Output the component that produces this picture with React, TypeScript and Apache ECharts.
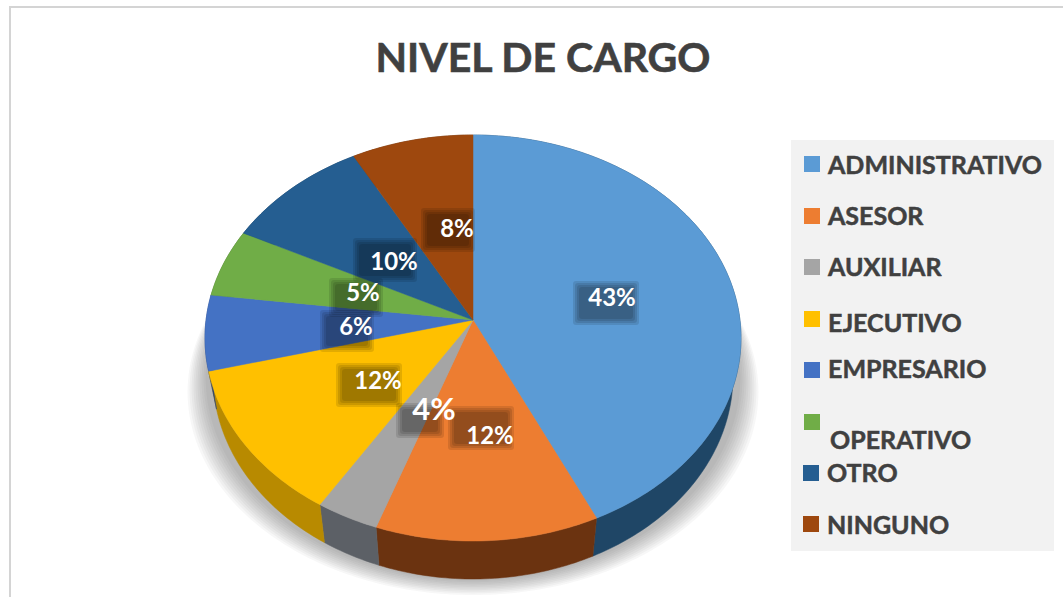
import React, { useEffect, useRef } from "react";
import * as echarts from "echarts";

const titleText = "NIVEL DE CARGO";
const categories = ["ADMINISTRATIVO", "ASESOR", "AUXILIAR", "EJECUTIVO", "EMPRESARIO", "OPERATIVO", "OTRO", "NINGUNO"];
const shares = [43, 12.4, 3.5, 12.1, 6, 5.4, 9.6, 8];
const topColors = ["#5B9BD5", "#ED7D31", "#A5A5A5", "#FFC000", "#4472C4", "#70AD47", "#255E91", "#9E480E"];
const sideColors = ["#1F4666", "#6B3310", "#5C6066", "#B88A00", "#27427A", "#44702A", "#163A5C", "#5E2B08"];

// Layout only
const CX = 473, CY = 338, RX = 268, RY = 203, DEPTH = 38, APEX_K = 18 / 203, BASE_SCALE = 0.97;
const labelCenters = [[612, 296], [490, 434], [434, 408], [378, 379], [356, 325], [363, 291], [394, 260], [457, 227]];
const labelBoxes = [[577, 285, 58, 36], [452, 410, 58, 36], [400, 407, 40, 27], [340, 367, 58, 36], [324, 314, 46, 34], [333, 282, 46, 31], [357, 242, 56, 36], [425, 212, 46, 36]];
const labelSizes = [24, 24, 31, 24, 24, 24, 24, 24];
const markerRows = [[804, 164], [804, 216], [804, 267], [804, 319], [804, 370], [804, 422], [803, 473], [803, 524]];
const textRows = [[828, 164], [828, 215], [828, 266], [828, 322], [828, 368], [830, 439], [827, 472], [827, 524]];
const boxInflate = [4, 2, 0, -2];
const shadowRings = [0, 1, 2, 3, 4, 5, 6, 7, 8, 9];

const total = shares.reduce((a, b) => a + b, 0);
const rim = (pct: number, dy = 0, scale = 1): number[] => {
  const t = (pct / total) * 2 * Math.PI;
  const u = Math.sin(t), v = -Math.cos(t);
  const d = 1 - APEX_K * v;
  return [CX + (scale * RX * u * Math.sqrt(1 - APEX_K * APEX_K)) / d, CY + dy + (RY * (v - APEX_K)) / d];
};
const arc = (from: number, to: number, dy = 0, scale = 1): number[][] => {
  const n = Math.max(2, Math.ceil(((to - from) / total) * 360));
  const out: number[][] = [];
  for (let i = 0; i <= n; i++) out.push(rim(from + ((to - from) * i) / n, dy, scale));
  return out;
};
const startOf = (i: number) => shares.slice(0, i).reduce((a, b) => a + b, 0);

export default function App() {
  const ref = useRef<HTMLDivElement>(null);
  useEffect(() => {
    document.body.style.margin = "0";
    const chart = echarts.init(ref.current!, undefined, { renderer: "svg" });
    const font = "Lato";
    const seriesData = shares.map((v) => [v]);
    chart.setOption({
      animation: false,
      backgroundColor: "#ffffff",
      title: {
        text: titleText,
        left: 538,
        top: 31,
        textAlign: "center",
        textStyle: { fontFamily: font, fontWeight: "bold", fontSize: 41, color: "#404040", textBorderColor: "#404040", textBorderWidth: 0.6 },
      },
      tooltip: { show: false },
      graphic: [
        { type: "rect", shape: { x: 9, y: 6, width: 1060, height: 2 }, style: { fill: "#d4d4d4" }, z: 1 },
        { type: "rect", shape: { x: 9, y: 6, width: 2, height: 600 }, style: { fill: "#d4d4d4" }, z: 1 },
        { type: "rect", shape: { x: 791, y: 140, width: 263, height: 411 }, style: { fill: "#f2f2f2" }, z: 1 },
        ...categories.flatMap((name, i) => [
          { type: "rect", shape: { x: markerRows[i][0], y: markerRows[i][1] - 8, width: 16, height: 16 }, style: { fill: topColors[i] }, z: 2 },
          {
            type: "text",
            x: textRows[i][0],
            y: textRows[i][1],
            style: { text: name, fill: "#404040", stroke: "#404040", lineWidth: 0.5, font: `bold 25px ${font}`, verticalAlign: "middle" },
            z: 2,
          },
        ]),
      ],
      series: [
        {
          type: "custom",
          name: "shadow",
          coordinateSystem: "none",
          silent: true,
          z: 2,
          data: [[0]],
          renderItem: () => ({
            type: "group",
            children: shadowRings.map((k) => ({
              type: "polygon",
              shape: { points: arc(0, total, 54 - k * 1.6, 1.065 - k * 0.0075) },
              style: { fill: "rgba(60,60,60,0.04)" },
            })),
          }),
        },
        {
          type: "custom",
          name: "sides",
          coordinateSystem: "none",
          silent: true,
          z: 3,
          data: seriesData,
          renderItem: (p: any, api: any) => {
            const i = p.dataIndex;
            const a = startOf(i), b = a + api.value(0);
            return {
              type: "polygon",
              shape: { points: [...arc(a, b), ...arc(a, b, DEPTH, BASE_SCALE).reverse()] },
              style: { fill: sideColors[i], stroke: sideColors[i], lineWidth: 0.5 },
            };
          },
        },
        {
          type: "custom",
          name: "tops",
          coordinateSystem: "none",
          silent: true,
          z: 4,
          data: seriesData,
          renderItem: (p: any, api: any) => {
            const i = p.dataIndex;
            const a = startOf(i), b = a + api.value(0);
            return {
              type: "polygon",
              shape: { points: [[CX, CY - APEX_K * RY], ...arc(a, b)] },
              style: { fill: topColors[i], stroke: topColors[i], lineWidth: 0.5 },
            };
          },
        },
        {
          type: "custom",
          name: "labels",
          coordinateSystem: "none",
          silent: true,
          z: 5,
          data: seriesData,
          renderItem: (p: any, api: any) => {
            const i = p.dataIndex;
            const [x, y, w, h] = labelBoxes[i];
            const [tx, ty] = labelCenters[i];
            return {
              type: "group",
              children: [
                ...boxInflate.map((k) => ({
                  type: "rect",
                  shape: { x: x - k, y: y - k, width: w + 2 * k, height: h + 2 * k, r: 3 },
                  style: { fill: "rgba(0,0,0,0.11)" },
                })),
                {
                  type: "text",
                  x: tx,
                  y: ty,
                  style: {
                    text: `${Math.round(api.value(0))}%`,
                    fill: "#ffffff",
                    font: `bold ${labelSizes[i]}px ${font}`,
                    align: "center",
                    verticalAlign: "middle",
                  },
                },
              ],
            };
          },
        },
      ],
    });
    return () => chart.dispose();
  }, []);
  return <div ref={ref} style={{ width: 1063, height: 597 }} />;
}
